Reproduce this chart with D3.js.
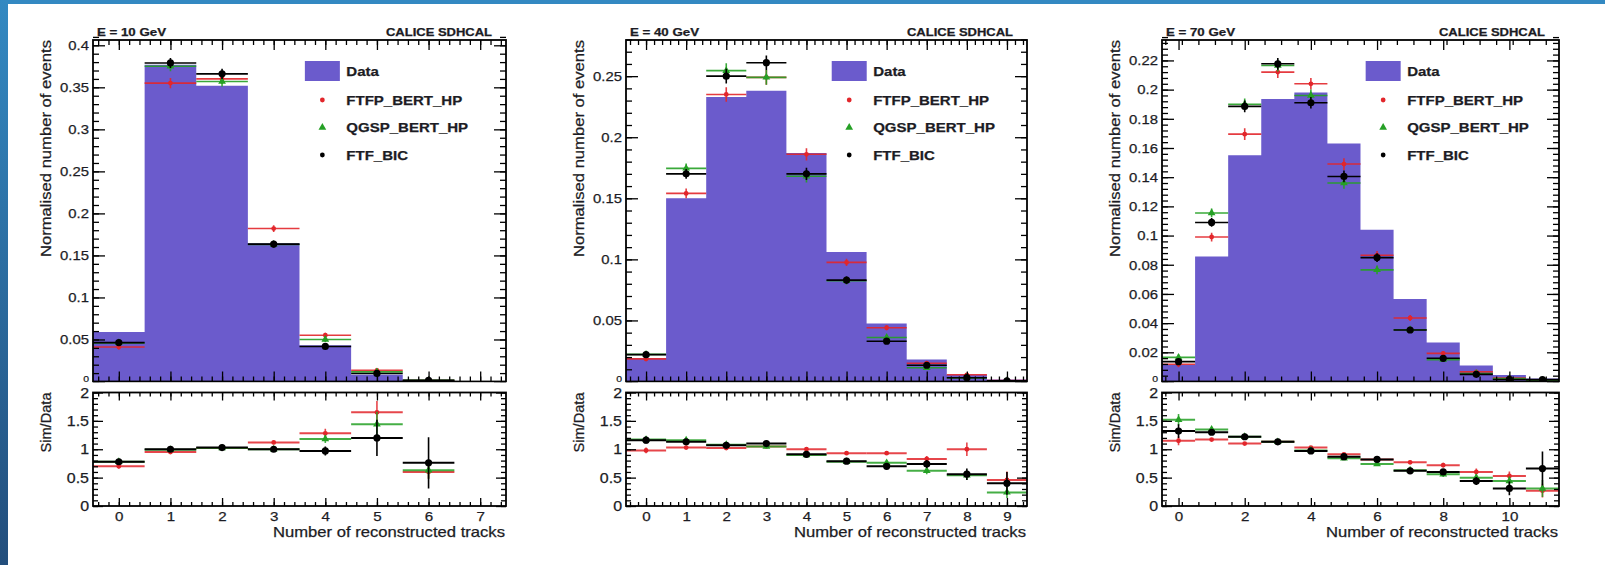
<!DOCTYPE html>
<html>
<head>
<meta charset="utf-8">
<script src="https://cdn.jsdelivr.net/npm/d3@7"></script>
<style>
  html, body { margin: 0; padding: 0; background: #fff; }
  svg { display: block; }
  text { font-family: "Liberation Sans", Arial, Helvetica, sans-serif; }
</style>
</head>
<body>
<svg id="chart" width="1605" height="565"></svg>
<script>
// ---------- shared labels ----------
const panelTitles = ["E = 10 GeV", "E = 40 GeV", "E = 70 GeV"];
const experiment = "CALICE SDHCAL";
const models = ["FTFP_BERT_HP", "QGSP_BERT_HP", "FTF_BIC"];
const yTitle = "Normalised number of events";
const ratioTitle = "Sim/Data";
const xTitle = "Number of reconstructed tracks";
const ratioTicks = [0, 0.5, 1, 1.5, 2];

// ---------- E = 10 GeV ----------
const tracks10 = [0, 1, 2, 3, 4, 5, 6, 7];
const data10   = [0.059, 0.377, 0.352, 0.1645, 0.043, 0.008, 0.002, 0.0003];
const ftfp10   = [0.041, 0.355, 0.360, 0.182, 0.055, 0.0132, 0.0012, null];
const qgsp10   = [0.046, 0.375, 0.357, 0.163, 0.050, 0.0114, 0.0013, null];
const ftfbic10 = [0.0463, 0.379, 0.366, 0.1635, 0.0417, 0.0096, 0.0015, null];
const errTop10 = [0.003, 0.006, 0.006, 0.004, 0.003, 0.002, 0.001, 0];
const rFtfp10   = [0.70, 0.95, 1.02, 1.12, 1.28, 1.65, 0.60, null];
const rQgsp10   = [0.78, 0.99, 1.02, 1.00, 1.18, 1.44, 0.63, null];
const rFtfbic10 = [0.78, 1.00, 1.03, 1.00, 0.97, 1.20, 0.76, null];
const reFtfp10   = [0.04, 0.02, 0.02, 0.03, 0.08, 0.20, 0.12, null];
const reQgsp10   = [0.04, 0.02, 0.02, 0.03, 0.07, 0.22, 0.15, null];
const reFtfbic10 = [0.05, 0.03, 0.02, 0.03, 0.08, 0.32, 0.45, null];
const yTicks10 = [0, 0.05, 0.1, 0.15, 0.2, 0.25, 0.3, 0.35, 0.4];
const xTicks10 = [0, 1, 2, 3, 4, 5, 6, 7];

// ---------- E = 40 GeV ----------
const tracks40 = [0, 1, 2, 3, 4, 5, 6, 7, 8, 9];
const data40   = [0.019, 0.150, 0.233, 0.238, 0.187, 0.106, 0.0475, 0.018, 0.0055, 0.0016];
const ftfp40   = [0.0185, 0.154, 0.235, 0.249, 0.186, 0.0975, 0.044, 0.015, 0.0055, 0.0007];
const qgsp40   = [0.0222, 0.1745, 0.2545, 0.249, 0.168, 0.0825, 0.036, 0.0112, 0.003, 0.0004];
const ftfbic40 = [0.0220, 0.170, 0.250, 0.261, 0.170, 0.083, 0.033, 0.0133, 0.0031, 0.0006];
const errTop40 = [0.002, 0.004, 0.006, 0.006, 0.005, 0.003, 0.002, 0.0015, 0.001, 0.0005];
const rFtfp40   = [0.98, 1.03, 1.02, 1.05, 1.00, 0.93, 0.93, 0.83, 1.00, 0.46];
const rQgsp40   = [1.17, 1.16, 1.08, 1.05, 0.90, 0.78, 0.76, 0.62, 0.54, 0.24];
const rFtfbic40 = [1.16, 1.13, 1.07, 1.10, 0.91, 0.79, 0.70, 0.74, 0.56, 0.40];
const reFtfp40   = [0.05, 0.02, 0.02, 0.02, 0.02, 0.03, 0.03, 0.05, 0.12, 0.15];
const reQgsp40   = [0.06, 0.03, 0.02, 0.02, 0.02, 0.03, 0.04, 0.06, 0.08, 0.10];
const reFtfbic40 = [0.06, 0.03, 0.02, 0.02, 0.03, 0.03, 0.04, 0.07, 0.10, 0.20];
const yTicks40 = [0, 0.05, 0.1, 0.15, 0.2, 0.25];
const xTicks40 = [0, 1, 2, 3, 4, 5, 6, 7, 8, 9];

// ---------- E = 70 GeV ----------
const tracks70 = [0, 1, 2, 3, 4, 5, 6, 7, 8, 9, 10, 11];
const data70   = [0.0113, 0.0856, 0.155, 0.1935, 0.198, 0.163, 0.104, 0.0565, 0.0268, 0.011, 0.0045, 0.002];
const ftfp70   = [0.0118, 0.099, 0.1695, 0.212, 0.204, 0.149, 0.0865, 0.0435, 0.0193, 0.0066, 0.0024, 0.0006];
const qgsp70   = [0.0165, 0.1155, 0.190, 0.2165, 0.196, 0.136, 0.0765, 0.0355, 0.015, 0.0055, 0.002, 0.0006];
const ftfbic70 = [0.0136, 0.109, 0.1885, 0.2177, 0.191, 0.1405, 0.0849, 0.0353, 0.0159, 0.0049, 0.0014, 0.0013];
const errTop70 = [0.002, 0.003, 0.004, 0.004, 0.004, 0.004, 0.003, 0.002, 0.0015, 0.001, 0.0007, 0.0005];
const rFtfp70   = [1.15, 1.17, 1.10, 1.13, 1.03, 0.91, 0.82, 0.77, 0.72, 0.60, 0.53, 0.27];
const rQgsp70   = [1.52, 1.35, 1.22, 1.13, 0.98, 0.84, 0.74, 0.63, 0.56, 0.50, 0.44, 0.31];
const rFtfbic70 = [1.32, 1.30, 1.22, 1.13, 0.97, 0.87, 0.82, 0.62, 0.60, 0.44, 0.31, 0.66];
const reFtfp70   = [0.08, 0.03, 0.02, 0.02, 0.02, 0.02, 0.02, 0.03, 0.04, 0.06, 0.08, 0.12];
const reQgsp70   = [0.10, 0.04, 0.02, 0.02, 0.02, 0.02, 0.03, 0.03, 0.05, 0.06, 0.08, 0.15];
const reFtfbic70 = [0.12, 0.04, 0.02, 0.02, 0.02, 0.02, 0.03, 0.03, 0.05, 0.07, 0.12, 0.30];
const yTicks70 = [0, 0.02, 0.04, 0.06, 0.08, 0.1, 0.12, 0.14, 0.16, 0.18, 0.2, 0.22];
const xTicks70 = [0, 2, 4, 6, 8, 10];

// ---------- styling ----------
const dataFill = "#6b5bcc";
const modelColors = ["#e2262b", "#25a025", "#000000"];
const modelMarkers = ["circle", "triangle", "bigcircle"];
const textColor = "#1c1c24";

const W = 1605, H = 565;
const svg = d3.select("#chart");
const defs = svg.append("defs");

// page border strips
const grad = defs.append("linearGradient").attr("id", "edgeGrad")
  .attr("x1", 0).attr("y1", 0).attr("x2", 0).attr("y2", 1);
grad.append("stop").attr("offset", "0%").attr("stop-color", "#3389c2");
grad.append("stop").attr("offset", "100%").attr("stop-color", "#234e7c");
svg.append("rect").attr("x", 0).attr("y", 0).attr("width", W).attr("height", 4).attr("fill", "#3389c2");
svg.append("rect").attr("x", 0).attr("y", 0).attr("width", 8).attr("height", H).attr("fill", "url(#edgeGrad)");

// stretch a text horizontally by factor k (or to a fixed length), with a slightly heavier stroke
function stretch(sel, k, fixed) {
  sel.each(function () {
    const w = this.getComputedTextLength();
    d3.select(this).attr("textLength", fixed || w * k).attr("lengthAdjust", "spacingAndGlyphs")
      .attr("stroke", textColor).attr("stroke-width", 0.25);
  });
}

function minorValues(lo, hi, step) {
  const n = Math.round((hi - lo) / step);
  return d3.range(n + 1).map(i => lo + i * step);
}

const TOP = { y0: 40, y1: 381.5 };
const RAT = { y0: 392.5, y1: 506 };

const panels = [
  { title: panelTitles[0], left: 93, right: 506, yMax: 0.4063, yTicks: yTicks10, yMinor: 0.01,
    xTicks: xTicks10, xMinor: 0.2, bins: tracks10, data: data10, err: errTop10,
    sims: [ftfp10, qgsp10, ftfbic10], ratios: [rFtfp10, rQgsp10, rFtfbic10], rerr: [reFtfp10, reQgsp10, reFtfbic10] },
  { title: panelTitles[1], left: 626, right: 1027, yMax: 0.2796, yTicks: yTicks40, yMinor: 0.01,
    xTicks: xTicks40, xMinor: 0.2, bins: tracks40, data: data40, err: errTop40,
    sims: [ftfp40, qgsp40, ftfbic40], ratios: [rFtfp40, rQgsp40, rFtfbic40], rerr: [reFtfp40, reQgsp40, reFtfbic40] },
  { title: panelTitles[2], left: 1162, right: 1559, yMax: 0.234, yTicks: yTicks70, yMinor: 0.004,
    xTicks: xTicks70, xMinor: 0.5, bins: tracks70, data: data70, err: errTop70,
    sims: [ftfp70, qgsp70, ftfbic70], ratios: [rFtfp70, rQgsp70, rFtfbic70], rerr: [reFtfp70, reQgsp70, reFtfbic70] }
];

function styleAxis(g, fontSize) {
  g.attr("font-family", null).attr("font-size", fontSize).attr("color", "#000");
  g.select(".domain").remove();
  g.selectAll("line").attr("stroke-width", 1.3);
  g.selectAll("text").attr("fill", textColor);
}

// ticks on all four sides of a pad
function frameAxes(g, x, y, pad, opt) {
  const { xMaj, xMin, yMaj, yMin, xMajLen, xMinLen, yMajLen, yMinLen, xLabels, yFont, zeroTucked, left, right } = opt;
  // bottom
  const gb = g.append("g").attr("transform", `translate(0,${pad.y1})`)
    .call(d3.axisBottom(x).tickValues(xMaj).tickSize(-xMajLen).tickPadding(5)
      .tickFormat(xLabels ? (d => String(d)) : () => ""));
  styleAxis(gb, 13.5);
  if (xLabels) stretch(gb.selectAll("text"), 1.12);
  const gbm = g.append("g").attr("transform", `translate(0,${pad.y1})`)
    .call(d3.axisBottom(x).tickValues(xMin).tickSize(-xMinLen).tickFormat(() => ""));
  styleAxis(gbm, 10);
  // top
  const gt = g.append("g").attr("transform", `translate(0,${pad.y0})`)
    .call(d3.axisTop(x).tickValues(xMaj).tickSize(-xMajLen).tickFormat(() => ""));
  styleAxis(gt, 10);
  const gtm = g.append("g").attr("transform", `translate(0,${pad.y0})`)
    .call(d3.axisTop(x).tickValues(xMin).tickSize(-xMinLen).tickFormat(() => ""));
  styleAxis(gtm, 10);
  // left
  const gl = g.append("g").attr("transform", `translate(${left},0)`)
    .call(d3.axisLeft(y).tickValues(yMaj).tickSize(-yMajLen).tickPadding(4)
      .tickFormat(d => String(d)));
  styleAxis(gl, yFont);
  if (zeroTucked) {
    // the zero label of the upper pad sits small, tucked against the lower pad
    gl.selectAll("text").filter(d => d === 0).attr("font-size", 9.5).attr("dy", "-0.5");
  }
  stretch(gl.selectAll("text"), 1.1);
  const glm = g.append("g").attr("transform", `translate(${left},0)`)
    .call(d3.axisLeft(y).tickValues(yMin).tickSize(-yMinLen).tickFormat(() => ""));
  styleAxis(glm, 10);
  // right
  const gr = g.append("g").attr("transform", `translate(${right},0)`)
    .call(d3.axisRight(y).tickValues(yMaj).tickSize(-yMajLen).tickFormat(() => ""));
  styleAxis(gr, 10);
  const grm = g.append("g").attr("transform", `translate(${right},0)`)
    .call(d3.axisRight(y).tickValues(yMin).tickSize(-yMinLen).tickFormat(() => ""));
  styleAxis(grm, 10);
}

function drawMarker(g, kind, cx, cy, color) {
  if (kind === "triangle") {
    g.append("path").attr("d", d3.symbol(d3.symbolTriangle, 26)())
      .attr("transform", `translate(${cx},${cy})`).attr("fill", color);
  } else {
    g.append("circle").attr("cx", cx).attr("cy", cy)
      .attr("r", kind === "bigcircle" ? 3.6 : 2.4).attr("fill", color);
  }
}

// horizontal bin-width bars, vertical error bars and markers
function drawPoints(g, x, y, bins, vals, errs, color, kind, lw, alpha) {
  const pts = bins.map((b, i) => ({ b, v: vals[i], e: errs[i] })).filter(p => p.v != null);
  g.append("g").selectAll("line").data(pts).join("line")
    .attr("x1", p => x(p.b - 0.5)).attr("x2", p => x(p.b + 0.5))
    .attr("y1", p => y(p.v)).attr("y2", p => y(p.v))
    .attr("stroke", color).attr("stroke-width", lw).attr("stroke-opacity", alpha);
  g.append("g").selectAll("line").data(pts.filter(p => p.e > 0)).join("line")
    .attr("x1", p => x(p.b)).attr("x2", p => x(p.b))
    .attr("y1", p => y(p.v - p.e)).attr("y2", p => y(p.v + p.e))
    .attr("stroke", color).attr("stroke-width", 1.6).attr("stroke-opacity", alpha);
  pts.forEach(p => drawMarker(g, kind, x(p.b), y(p.v), color));
}

panels.forEach((P, pi) => {
  const n = P.bins.length;
  const x = d3.scaleLinear().domain([-0.5, n - 0.5]).range([P.left, P.right]);
  const y = d3.scaleLinear().domain([0, P.yMax]).range([TOP.y1, TOP.y0]);
  const yr = d3.scaleLinear().domain([0, 2]).range([RAT.y1, RAT.y0]);
  const xMinor = minorValues(-0.4, n - 0.6, P.xMinor).filter(v => v > -0.5 && v < n - 0.5);

  const g = svg.append("g");

  // ---- upper pad ----
  defs.append("clipPath").attr("id", "clipTop" + pi).append("rect")
    .attr("x", P.left).attr("y", TOP.y0).attr("width", P.right - P.left).attr("height", TOP.y1 - TOP.y0);
  const plot = g.append("g").attr("clip-path", `url(#clipTop${pi})`);

  const stepPts = P.bins.map((b, i) => ({ x: b - 0.5, v: P.data[i] }));
  stepPts.push({ x: n - 0.5, v: P.data[n - 1] });
  plot.append("path").datum(stepPts)
    .attr("d", d3.area().curve(d3.curveStepAfter).x(d => x(d.x)).y0(y(0)).y1(d => y(d.v)))
    .attr("fill", dataFill);

  P.sims.forEach((vals, mi) => {
    drawPoints(plot, x, y, P.bins, vals, P.err, modelColors[mi], modelMarkers[mi], 1.6, mi === 2 ? 1 : 0.9);
  });

  frameAxes(g, x, y, TOP, {
    xMaj: P.xTicks, xMin: xMinor,
    yMaj: P.yTicks, yMin: minorValues(0, P.yMax, P.yMinor),
    xMajLen: 10, xMinLen: 5, yMajLen: 12, yMinLen: 6,
    xLabels: false, yFont: 13.5, zeroTucked: true, left: P.left, right: P.right
  });

  g.append("rect").attr("x", P.left).attr("y", TOP.y0)
    .attr("width", P.right - P.left).attr("height", TOP.y1 - TOP.y0)
    .attr("fill", "none").attr("stroke", "#000").attr("stroke-width", 1.8);

  // titles above the frame
  const t1 = g.append("text").attr("x", P.left + 4).attr("y", 36)
    .attr("font-size", 10.5).attr("font-weight", "bold").attr("fill", textColor).text(P.title);
  stretch(t1, 1, 69);
  const t2 = g.append("text").attr("x", P.right - 14).attr("y", 36).attr("text-anchor", "end")
    .attr("font-size", 10.5).attr("font-weight", "bold").attr("fill", textColor).text(experiment);
  stretch(t2, 1, 106);

  // y-axis title
  const yt = g.append("text").attr("transform", `translate(${P.left - 42},${TOP.y0}) rotate(-90)`)
    .attr("text-anchor", "end").attr("font-size", 15).attr("fill", textColor).text(yTitle);
  stretch(yt, 1, 217);

  // legend
  const lx = P.left + 0.513 * (P.right - P.left);
  const rows = [71, 100, 127.5, 155];
  g.append("rect").attr("x", lx).attr("y", 61).attr("width", 35).attr("height", 20).attr("fill", dataFill);
  const legTexts = ["Data"].concat(models);
  legTexts.forEach((t, i) => {
    const tx = g.append("text").attr("x", lx + 41.5).attr("y", rows[i] + 4.5)
      .attr("font-size", 12.5).attr("font-weight", "bold").attr("fill", textColor).text(t);
    stretch(tx, 1.2);
    if (i > 0) drawMarker(g, modelMarkers[i - 1] === "bigcircle" ? "circle" : modelMarkers[i - 1],
      lx + 17.5, rows[i], modelColors[i - 1]);
  });

  // ---- ratio pad ----
  g.append("rect").attr("x", P.left - 60).attr("y", TOP.y1 + 1).attr("width", P.right - P.left + 70)
    .attr("height", H - TOP.y1 - 1).attr("fill", "#fff");

  defs.append("clipPath").attr("id", "clipRat" + pi).append("rect")
    .attr("x", P.left).attr("y", RAT.y0).attr("width", P.right - P.left).attr("height", RAT.y1 - RAT.y0);
  const rplot = g.append("g").attr("clip-path", `url(#clipRat${pi})`);
  P.ratios.forEach((vals, mi) => {
    drawPoints(rplot, x, yr, P.bins, vals, P.rerr[mi], modelColors[mi], modelMarkers[mi], 2, mi === 2 ? 1 : 0.85);
  });

  frameAxes(g, x, yr, RAT, {
    xMaj: P.xTicks, xMin: xMinor,
    yMaj: ratioTicks, yMin: minorValues(0, 2, 0.1),
    xMajLen: 8, xMinLen: 4, yMajLen: 10, yMinLen: 5,
    xLabels: true, yFont: 14.5, zeroTucked: false, left: P.left, right: P.right
  });

  g.append("rect").attr("x", P.left).attr("y", RAT.y0)
    .attr("width", P.right - P.left).attr("height", RAT.y1 - RAT.y0)
    .attr("fill", "none").attr("stroke", "#000").attr("stroke-width", 1.8);

  const rt = g.append("text").attr("transform", `translate(${P.left - 42},${RAT.y0}) rotate(-90)`)
    .attr("text-anchor", "end").attr("font-size", 14).attr("fill", textColor).text(ratioTitle);
  stretch(rt, 1, 60);

  const xt = g.append("text").attr("x", P.right - 1).attr("y", 536.5).attr("text-anchor", "end")
    .attr("font-size", 14.5).attr("fill", textColor).text(xTitle);
  stretch(xt, 1, 232);
});
</script>
</body>
</html>
